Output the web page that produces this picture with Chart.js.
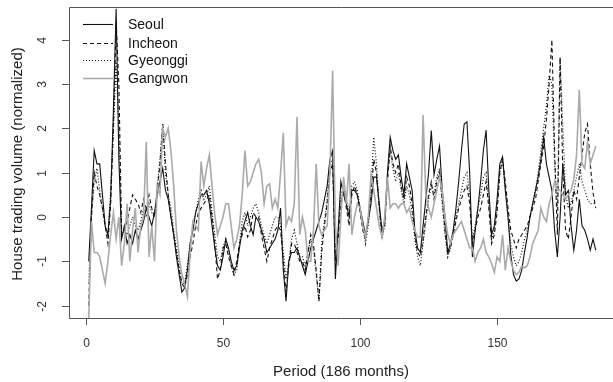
<!DOCTYPE html>
<html>
<head>
<meta charset="utf-8">
<title>House trading volume</title>
<script src="https://cdn.jsdelivr.net/npm/chart.js@4"></script>
<style>
  html, body { margin: 0; padding: 0; background: #fff; }
  #wrap { width: 613px; height: 382px; }
</style>
</head>
<body>
<div id="wrap"><canvas id="c" width="613" height="382"></canvas></div>
<script>
// months 1..186
const periods = Array.from({ length: 186 }, (_, i) => i + 1);

const seoul = [
  -1.0, 0.2, 1.5, 1.2, 1.2, 0.5, -0.2, -0.4, 0.4, 2.4,
  4.7, 1.3, -0.5, -0.2, -0.6, -0.4, -0.6, -0.3, -0.5, -0.3,
  -0.1, 0.2, 0.0, -0.2, 0.1, 0.5, 0.8, 1.1, 0.6, 0.4,
  0.0, -0.4, -0.9, -1.3, -1.7, -1.6, -1.2, -0.6, -0.3, 0.1,
  0.3, 0.5, 0.5, 0.6, 0.3, -0.2, -0.7, -1.1, -1.2, -0.9,
  -0.5, -0.7, -1.0, -1.2, -1.1, -0.7, -0.3, -0.1, 0.1, -0.2,
  -0.4, 0.0, -0.1, -0.3, -0.5, -0.8, -0.7, -0.6, -0.5, -0.3,
  0.2, -1.2, -1.9, -1.0, -0.8, -0.8, -0.7, -0.9, -1.1, -1.3,
  -1.0, -0.7, -0.5, -0.3, -0.1, 0.1, 0.4, 0.7, 1.3, 1.5,
  -1.4, -0.3, 0.8, 0.5, 0.3, 0.0, 0.6, 0.6, 0.5, 0.2,
  -0.1, -0.4, -0.1, 0.3, 0.9, 0.9, 0.3, -0.3, -0.1, 1.0,
  1.8, 1.5, 1.3, 1.4, 0.9, 0.5, 1.2, 0.9, 0.6, -0.3,
  -0.7, -0.8, -0.2, 0.4, 1.0, 1.95, 0.95, 1.3, 1.6, 0.6,
  0.0, -0.8, -0.6, -0.3, 0.2, 0.8, 1.5, 2.1, 2.15, 1.0,
  -0.9, -0.3, 0.2, 0.8, 1.5, 1.96, 0.6, -0.4, -0.2, 0.4,
  1.2, 1.36, 0.6, 0.0, -0.85, -1.3, -1.45, -1.4, -1.2, -0.8,
  -0.45, 0.0, 0.3, 0.6, 0.9, 1.3, 1.8, 1.2, 0.9, 0.6,
  -0.3, -0.9, 0.0, 1.2, 0.5, 0.6, -0.2, -0.75, -0.3, 0.4,
  -0.2, -0.3, -0.5, -0.75, -0.5, -0.75
];

const incheon = [
  -2.0, 0.0, 1.0, 0.7, 0.5, 0.2, -0.2, -0.6, 0.3, 2.0,
  4.4, 3.0, -0.3, -0.3, -0.1, 0.2, 0.5, 0.4, 0.3, 0.1,
  0.4, 0.2, 0.5, 0.2, 0.0, 0.6, 1.2, 2.1, 1.2, 0.5,
  0.0, -0.4, -0.8, -1.2, -1.5, -1.6, -1.3, -0.9, -0.6, -0.2,
  0.1, 0.2, 0.3, 0.4, 0.5, 0.0, -0.6, -1.4, -1.2, -0.7,
  -0.6, -0.9, -1.1, -1.3, -1.0, -0.6, -0.4, -0.2, -0.45, -0.3,
  0.1, 0.0, 0.0, -0.4, -0.7, -1.0, -0.7, -0.5, -0.3, -0.2,
  -0.3, -1.0, -1.7, -1.1, -0.6, -0.6, -0.8, -1.0, -1.0, -1.2,
  -0.8, -0.4, -0.6, -1.2, -1.9, -0.8, -0.2, 0.3, 1.0, 1.2,
  -1.0, -0.5, 0.3, 0.6, 0.2, -0.2, 0.5, 0.7, 0.5, 0.1,
  -0.3, -0.5, 0.0, 0.5, 1.3, 1.0, 0.2, -0.4, -0.2, 0.8,
  1.6, 1.2, 1.0, 1.2, 0.7, 0.4, 0.9, 0.7, 0.3, -0.4,
  -0.8, -0.9, -0.5, 0.0, 0.5, 0.8, 0.4, 0.8, 1.0, 0.4,
  -0.3, -0.85, -0.7, -0.4, -0.1, 0.2, 0.4, 0.6, 0.7, 0.3,
  -0.6, -0.3, 0.0, 0.2, 0.5, 0.8, 0.2, -0.6, -0.4, 0.1,
  1.0, 1.3, 0.8, 0.2, -0.3, -0.5, -0.7, -0.5, -0.4, -0.3,
  -0.2, 0.0, 0.2, 0.4, 0.8, 1.2, 1.6, 2.2, 3.0, 4.0,
  1.5, -0.4, 3.6, 1.0, -0.3, -0.5, 0.0, 0.6, 0.4, 0.9,
  1.4, 1.9, 2.1, 1.2, 0.55, 0.2
];

const gyeonggi = [
  -1.5, 0.0, 0.8, 1.1, 0.6, 0.2, -0.2, -0.4, 0.6, 2.0,
  3.5, 2.0, -0.4, -0.3, -0.4, -0.2, 0.0, -0.2, -0.3, -0.1,
  0.2, 0.0, 0.3, 0.1, 0.0, 0.7, 1.3, 2.1, 1.0, 0.5,
  0.2, -0.3, -0.7, -1.1, -1.5, -1.5, -1.1, -0.6, -0.2, 0.1,
  0.4, 0.6, 0.4, 0.5, 0.7, 0.1, -0.4, -0.9, -1.0, -0.7,
  -0.5, -0.8, -1.1, -1.3, -1.2, -0.6, -0.1, 0.1, -0.2, 0.0,
  0.2, 0.3, 0.1, -0.2, -0.4, -0.6, -0.4, -0.2, 0.0, 0.0,
  -0.2, -0.8, -1.4, -1.0, -0.5, -0.3, -0.6, -0.9, -0.9, -1.1,
  -0.8, -0.5, -0.7, -1.3, -1.9, -0.6, -0.1, 0.4, 1.2, 1.3,
  -0.9, -0.4, 0.5, 0.7, 0.4, 0.1, 0.7, 0.8, 0.6, 0.2,
  -0.2, -0.6, -0.2, 0.6, 1.8, 1.2, 0.2, -0.5, -0.2, 0.9,
  1.5, 1.1, 0.8, 1.0, 0.6, 0.3, 0.7, 0.5, 0.1, -0.5,
  -0.9, -1.1, -0.6, -0.1, 0.4, 0.7, 0.5, 0.9, 1.1, 0.3,
  -0.4, -0.9, -0.7, -0.3, 0.0, 0.3, 0.6, 0.9, 1.0, 0.5,
  -0.5, -0.2, 0.2, 0.5, 0.9, 1.0, 0.3, -0.5, -0.3, 0.2,
  1.0, 1.3, 0.7, 0.0, -0.6, -0.9, -1.1, -1.0, -0.8, -0.5,
  -0.3, 0.0, 0.3, 0.6, 1.0, 1.5, 2.0, 2.5, 3.2, 3.0,
  1.2, 0.2, 3.6, 2.0, 0.5, 0.2, 0.3, 0.6, 0.9, 1.2,
  0.8, 0.6, 0.4, 0.3, 0.3, 0.3
];

const gangwon = [
  -2.3, -0.1, -0.8, -0.8, -0.9, -1.2, -1.5, -1.0, -0.4, 0.1,
  -0.5, 0.0, -1.1, -0.6, 0.3, -1.0, -0.3, 0.2, -0.8, -0.2,
  0.0, 1.7, -0.9, -0.2, -1.0, 0.7, 0.5, 2.0, 1.8, 2.0,
  1.5, 0.7, -0.3, -0.9, -1.3, -1.5, -1.8, -0.8, -0.1, -0.2,
  -0.3, 1.25, 0.7, 1.1, 1.4, 0.7, 0.05, -0.4, -0.2, 0.0,
  0.3, 0.3, -0.2, -0.7, -0.5, -0.2, 0.5, 1.5, 0.7, 0.8,
  1.0, 1.2, 1.3, 1.0, 0.3, 0.7, 0.75, 0.2, 0.4, 0.2,
  1.0, 1.9, -0.2, 0.0, -0.1, 0.3, 2.26, -0.4, 0.0, -0.3,
  -1.0, -1.0, -0.3, 1.2, -0.2, -0.4, -0.3, -0.2, 1.0, 3.3,
  -0.2, -1.1, 0.0, 0.9, 0.3, 1.2, -0.4, 0.0, 0.3, 0.2,
  -0.2, -0.45, 0.0, 0.95, 0.6, 0.2, -0.2, -0.45, 0.0, 0.9,
  0.2, 0.3, 0.3, 0.2, 0.3, 0.3, 0.1, 0.2, -0.1, -0.3,
  -0.45, -0.45, 2.3, 0.5, 0.2, 0.0, 0.3, 0.6, 0.9, 0.6,
  0.0, -0.4, -0.6, -0.4, -0.3, -0.2, -0.1, -0.3, -0.5, -0.7,
  -0.7, -1.0, -0.8, -0.7, -0.5, -0.8, -0.9, -1.05, -1.25, -0.9,
  -1.0, -0.4, -1.2, -0.7, -1.0, -1.2, -1.3, -1.25, -1.1, -1.15,
  -1.1, -0.9, -0.6, -0.45, -0.3, 0.2, 0.0, -0.1, 0.3, 0.5,
  0.8, 0.6, 0.6, 0.5, 0.4, 0.5, 0.6, 0.85, 1.4, 2.87,
  1.2, 1.1, 1.7, 1.2, 1.4, 1.6
];

const seriesNames = ['Seoul', 'Incheon', 'Gyeonggi', 'Gangwon'];
const xTicks = [0, 50, 100, 150];
const yTicks = [-2, -1, 0, 1, 2, 3, 4];

const FONT = '"Liberation Sans", Arial, Helvetica, sans-serif';
const pts = (vals) => vals.map((v, i) => ({ x: periods[i], y: v }));

const styles = [
  { color: '#111', width: 1.1, dash: [] },
  { color: '#111', width: 1.1, dash: [4, 3] },
  { color: '#111', width: 1.2, dash: [1, 2] },
  { color: '#aaa', width: 1.6, dash: [] },
];

// R-style box, ticks, rotated y labels, titles and legend
const rAxes = {
  id: 'rAxes',
  afterDatasetsDraw(chart) {
    const { ctx, chartArea: a, scales: { x, y } } = chart;
    ctx.save();
    ctx.strokeStyle = '#555';
    ctx.lineWidth = 1;
    ctx.setLineDash([]);
    ctx.beginPath();
    ctx.moveTo(613, a.top + 0.5); ctx.lineTo(a.left + 0.5, a.top + 0.5);
    ctx.lineTo(a.left + 0.5, a.bottom + 0.5); ctx.lineTo(613, a.bottom + 0.5);
    ctx.stroke();

    ctx.fillStyle = '#333';
    ctx.font = '12px ' + FONT;
    ctx.textAlign = 'center';
    ctx.textBaseline = 'middle';
    yTicks.forEach((v) => {
      const py = Math.round(y.getPixelForValue(v)) + 0.5;
      ctx.beginPath(); ctx.moveTo(a.left - 7, py); ctx.lineTo(a.left, py); ctx.stroke();
      ctx.save(); ctx.translate(43, py); ctx.rotate(-Math.PI / 2);
      ctx.fillText(String(v), 0, 0); ctx.restore();
    });
    xTicks.forEach((v) => {
      const px = Math.round(x.getPixelForValue(v)) + 0.5;
      ctx.beginPath(); ctx.moveTo(px, a.bottom); ctx.lineTo(px, a.bottom + 7); ctx.stroke();
      ctx.fillText(String(v), px, 344);
    });

    ctx.fillStyle = '#222';
    ctx.font = '15px ' + FONT;
    ctx.fillText('Period (186 months)', 341, 372);
    ctx.save(); ctx.translate(18, 164); ctx.rotate(-Math.PI / 2);
    ctx.fillText('House trading volume (normalized)', 0, 0); ctx.restore();

    // legend
    ctx.font = '14px ' + FONT;
    ctx.textAlign = 'left';
    const rows = [24, 43, 60, 78];
    seriesNames.forEach((name, i) => {
      const s = styles[i];
      ctx.strokeStyle = s.color; ctx.lineWidth = s.width; ctx.setLineDash(s.dash);
      ctx.beginPath(); ctx.moveTo(83, rows[i] + 0.5); ctx.lineTo(113, rows[i] + 0.5); ctx.stroke();
      ctx.fillStyle = '#111';
      ctx.fillText(name, 128, rows[i] + 1);
    });
    ctx.restore();
  }
};

new Chart(document.getElementById('c'), {
  type: 'line',
  data: {
    datasets: [seoul, incheon, gyeonggi, gangwon].map((vals, i) => ({
      label: seriesNames[i],
      data: pts(vals),
      borderColor: styles[i].color,
      borderWidth: styles[i].width,
      borderDash: styles[i].dash,
      pointRadius: 0,
      tension: 0,
      fill: false,
      order: i === 3 ? 0 : i + 1,
    })),
  },
  options: {
    responsive: false,
    animation: false,
    devicePixelRatio: 1,
    layout: { padding: { left: 69, right: 0, top: 7, bottom: 64 } },
    plugins: { legend: { display: false }, tooltip: { enabled: false } },
    scales: {
      x: { type: 'linear', min: -6.2, max: 192.3, display: false },
      y: { type: 'linear', min: -2.28, max: 4.74, display: false },
    },
  },
  plugins: [rAxes],
});
</script>
</body>
</html>
